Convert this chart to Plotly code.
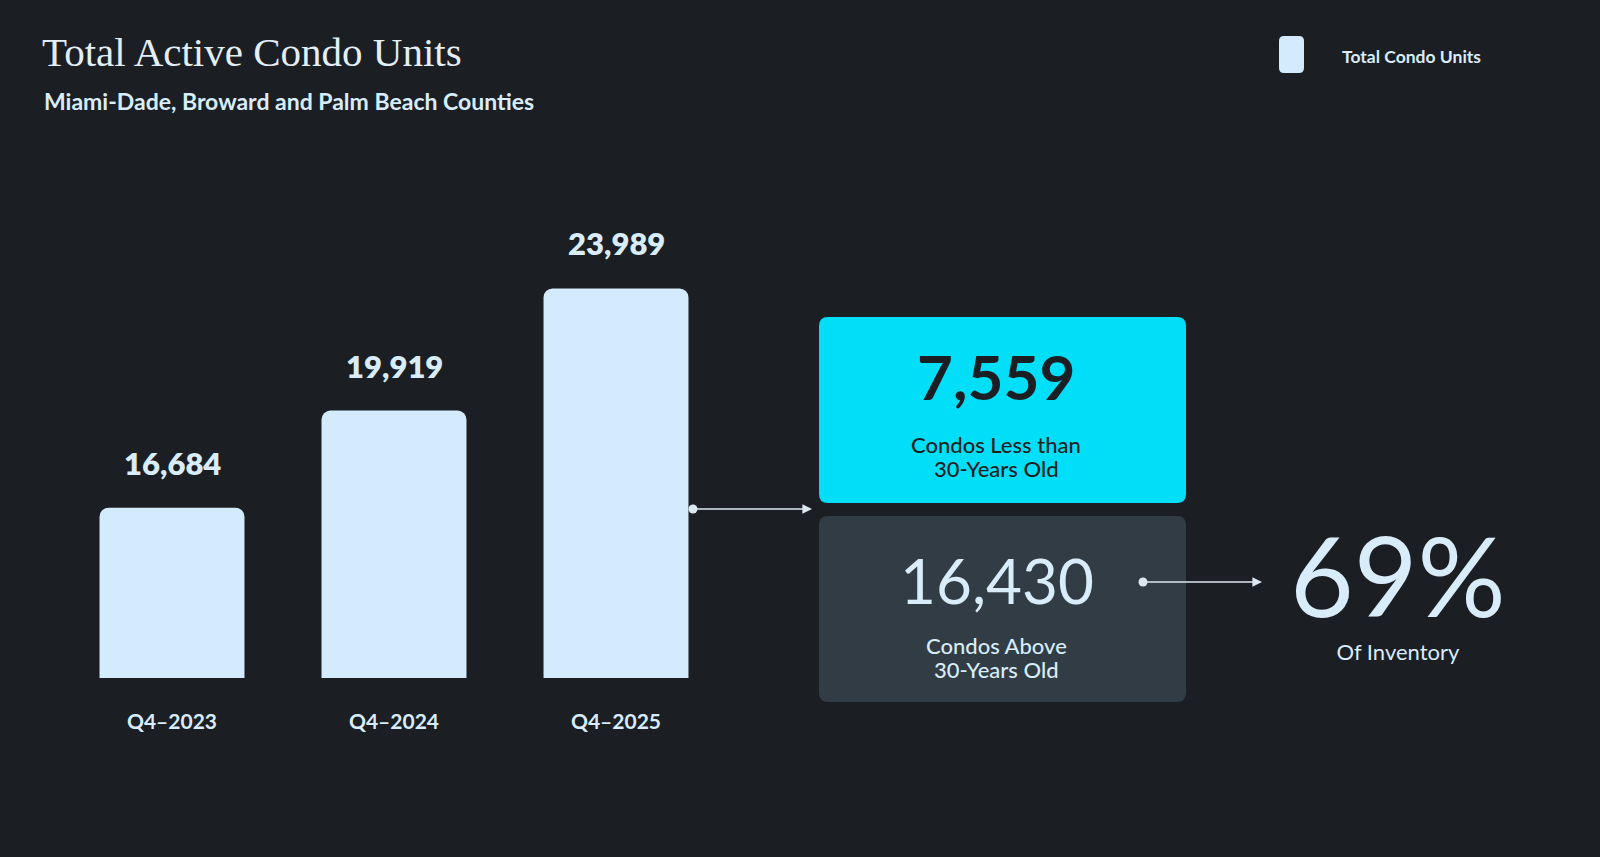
import plotly.graph_objects as go

# ---- data ----
quarters = ["Q4\u20132023", "Q4\u20132024", "Q4\u20132025"]
total_units = [16684, 19919, 23989]
less_than_30 = 7559
above_30 = 16430
share_above = "69%"

title = "Total Active Condo Units"
subtitle = "Miami-Dade, Broward and Palm Beach Counties"
legend_label = "Total Condo Units"
less_lines = ["Condos Less than", "30-Years Old"]
above_lines = ["Condos Above", "30-Years Old"]
share_label = "Of Inventory"

BG = "#1b1e23"
BAR = "#d3ebfc"
TXT = "#d8ecfa"
CYAN = "#00def8"
DARK = "#313c45"

W, H = 1600, 857


def px(x):
    return x / W


def py(y):
    return 1 - y / H


def rrect(x0, y0, x1, y1, r=9):
    # rounded rectangle path in paper coords, from pixel coords
    rx, ry = r / W, r / H
    X0, X1 = px(x0), px(x1)
    Yt, Yb = py(y0), py(y1)
    return (f"M {X0+rx},{Yt} L {X1-rx},{Yt} Q {X1},{Yt} {X1},{Yt-ry} "
            f"L {X1},{Yb+ry} Q {X1},{Yb} {X1-rx},{Yb} L {X0+rx},{Yb} "
            f"Q {X0},{Yb} {X0},{Yb+ry} L {X0},{Yt-ry} Q {X0},{Yt} {X0+rx},{Yt} Z")


def label(x, y, text, size, color, weight=400, family="Lato", xanchor="center"):
    return dict(x=px(x), y=py(y), xref="paper", yref="paper", text=text,
                showarrow=False, xanchor=xanchor, yanchor="middle",
                font=dict(family=family, size=size, color=color, weight=weight))


fig = go.Figure()
fig.add_trace(go.Bar(
    x=quarters, y=total_units, name=legend_label,
    marker=dict(color=BAR, cornerradius=9, line=dict(width=0)),
    showlegend=False, hoverinfo="x+y",
))

annotations = []
for q, v in zip(quarters, total_units):
    annotations.append(dict(
        x=q, y=v, xref="x", yref="y", text=f"{v:,}", showarrow=False,
        xanchor="center", yanchor="middle", yshift=45,
        font=dict(family="Lato", size=31, color=TXT, weight=800),
    ))

# title / subtitle / legend text
annotations += [
    label(40, 52, title, 41, "#e4eef6", family="Liberation Serif", xanchor="left"),
    label(42, 101, subtitle, 23, TXT, weight=700, xanchor="left"),
    label(1340, 57, legend_label, 17.5, TXT, weight=700, xanchor="left"),
]

# boxes text
DARKTXT = "#1b1e23"
annotations += [
    label(996, 376, f"{less_than_30:,}", 62, DARKTXT, weight=700),
    label(996, 444, less_lines[0], 22, DARKTXT, weight=500, family="Lato Medium, Lato"),
    label(996, 468, less_lines[1], 22, DARKTXT, weight=500, family="Lato Medium, Lato"),
    label(997, 580, f"{above_30:,}", 62, TXT, weight=400),
    label(996, 645, above_lines[0], 22, TXT, weight=500, family="Lato Medium, Lato"),
    label(996, 669, above_lines[1], 22, TXT, weight=500, family="Lato Medium, Lato"),
    label(1398, 586,
          f"<span style='font-size:110px'>{share_above}</span><br>"
          f"<span style='font-size:22px'>{share_label}</span>",
          33, TXT, weight=400),
]

# arrows
for (x0, x1, y) in [(693, 812, 509), (1143, 1262, 582)]:
    annotations.append(dict(
        x=px(x1), y=py(y), xref="paper", yref="paper", ax=-(x1 - x0), ay=0,
        axref="pixel", ayref="pixel", text="", showarrow=True,
        arrowhead=2, arrowsize=1.2, arrowwidth=1.6, arrowcolor="#dce8f0",
        standoff=0, startstandoff=0,
    ))

shapes = [
    dict(type="path", xref="paper", yref="paper", path=rrect(819, 317, 1186, 503),
         fillcolor=CYAN, line=dict(width=0), layer="below"),
    dict(type="path", xref="paper", yref="paper", path=rrect(819, 516, 1186, 702),
         fillcolor=DARK, line=dict(width=0), layer="below"),
    dict(type="path", xref="paper", yref="paper", path=rrect(1279, 36, 1304, 73, r=5),
         fillcolor=BAR, line=dict(width=0)),
]
for (cx, cy) in [(693, 509), (1143, 582)]:
    r = 4.5
    shapes.append(dict(type="circle", xref="paper", yref="paper",
                       x0=px(cx - r), x1=px(cx + r), y0=py(cy + r), y1=py(cy - r),
                       fillcolor="#dce8f0", line=dict(width=0)))

fig.update_layout(
    width=W, height=H,
    margin=dict(l=0, r=0, t=0, b=0),
    paper_bgcolor=BG, plot_bgcolor=BG,
    bargap=0.347,
    annotations=annotations,
    shapes=shapes,
    xaxis=dict(domain=[px(61), px(727)], range=[-0.5, 2.5], showgrid=False,
               zeroline=False, showline=False, ticks="outside", ticklen=25,
               tickcolor=BG,
               tickfont=dict(family="Lato", size=21, color=TXT, weight=700)),
    yaxis=dict(domain=[py(678), py(228)], range=[11013, 26000], visible=False,
               showgrid=False, zeroline=False),
    showlegend=False,
)

fig.write_html("out.html")
